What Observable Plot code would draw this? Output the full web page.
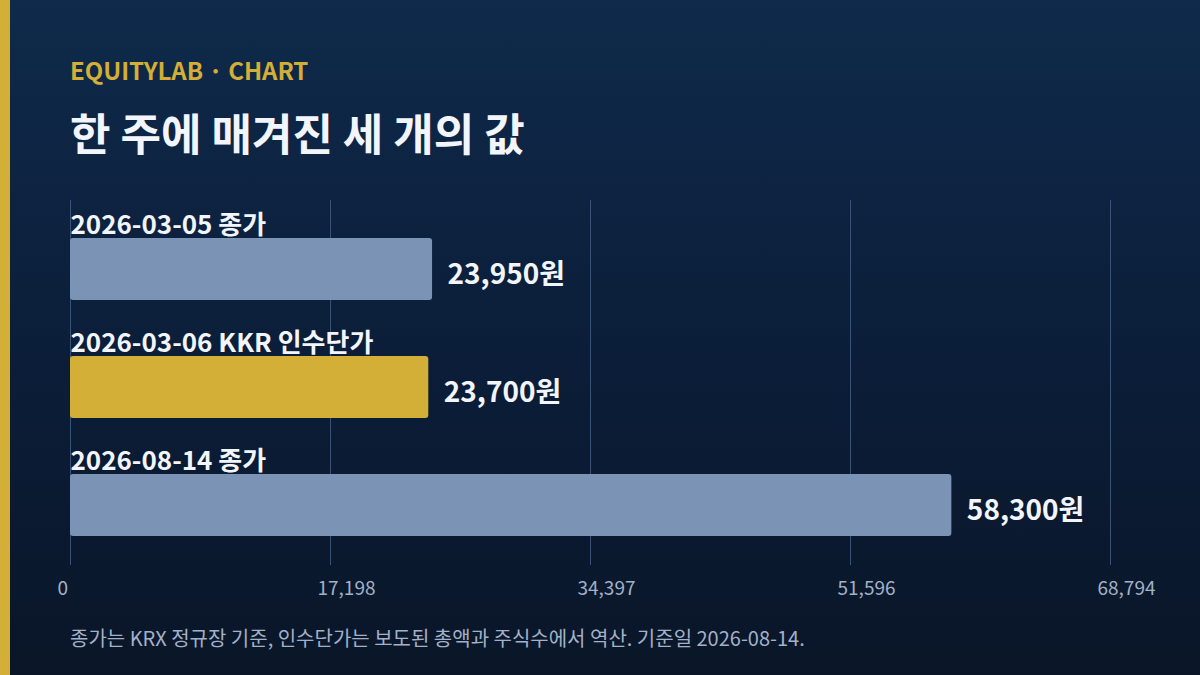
<!DOCTYPE html>
<html><head><meta charset="utf-8">
<script src="https://cdn.jsdelivr.net/npm/d3@7"></script>
<script src="https://cdn.jsdelivr.net/npm/@observablehq/plot@0.6"></script>
<style>
html,body{margin:0;padding:0;}
body{width:1200px;height:675px;overflow:hidden;font-family:"Noto Sans CJK KR","Noto Sans",sans-serif;}
#card{position:relative;width:1200px;height:675px;background:linear-gradient(180deg,#0f2a4b 0%,#0b1d38 55%,#0a1628 100%);}
#stripe{position:absolute;left:0;top:0;width:10px;height:675px;background:#d4af37;}
#kicker{position:absolute;left:70px;top:52px;font-size:24px;font-weight:700;color:#d4af37;}
#title{position:absolute;left:70px;top:100px;font-size:44px;font-weight:700;color:#f2f5fb;}
#chart{position:absolute;left:0;top:190px;}
#caption{position:absolute;left:70px;top:623px;font-size:20px;color:#a3b1c8;}
</style></head>
<body><div id="card"><div id="stripe"></div>
<div id="kicker">EQUITYLAB · CHART</div>
<div id="title">한 주에 매겨진 세 개의 값</div>
<div id="chart"></div>
<div id="caption">종가는 KRX 정규장 기준, 인수단가는 보도된 총액과 주식수에서 역산. 기준일 2026-08-14.</div>
</div>
<script>
const categories = ["2026-03-05 종가", "2026-03-06 KKR 인수단가", "2026-08-14 종가"];
const values = [23950, 23700, 58300];
const highlight = [false, true, false];
const tickValues = [0, 17198, 34397, 51596, 68794];
const xMax = 68794;

const data = categories.map((c, i) => ({cat: c, value: values[i], hl: highlight[i]}));

const chart = Plot.plot({
  width: 1200,
  height: 420,
  marginLeft: 70,
  marginRight: 90,
  marginTop: 10,
  marginBottom: 45,
  style: {background: "transparent", fontFamily: "'Noto Sans CJK KR', sans-serif", overflow: "visible"},
  x: {domain: [0, xMax], axis: null},
  y: {domain: categories, range: [48, 346], paddingInner: 0.475, paddingOuter: 0, axis: null},
  marks: [
    Plot.ruleX(tickValues, {stroke: "#3a5275", strokeWidth: 1}),
    Plot.axisX(tickValues, {anchor: "bottom", tickSize: 0, tickPadding: 0, dy: 16, dx: -13, textAnchor: "start", fontSize: 19, fill: "#a3b1c8", tickFormat: d3.format(","), label: null}),
    Plot.barX(data, {x: "value", y: "cat", fill: d => d.hl ? "#d4af37" : "#7b93b5", rx: 3}),
    Plot.text(data, {x: 0, y: "cat", text: "cat", textAnchor: "start", dy: -44, fontSize: 26, fontWeight: 700, fill: "#f2f5fb"}),
    Plot.text(data, {x: "value", y: "cat", text: d => d3.format(",")(d.value) + "원", textAnchor: "start", dx: 15, dy: 6, fontSize: 28, fontWeight: 700, fill: "#f2f5fb"})
  ]
});
document.getElementById("chart").appendChild(chart);
</script>
</body></html>
